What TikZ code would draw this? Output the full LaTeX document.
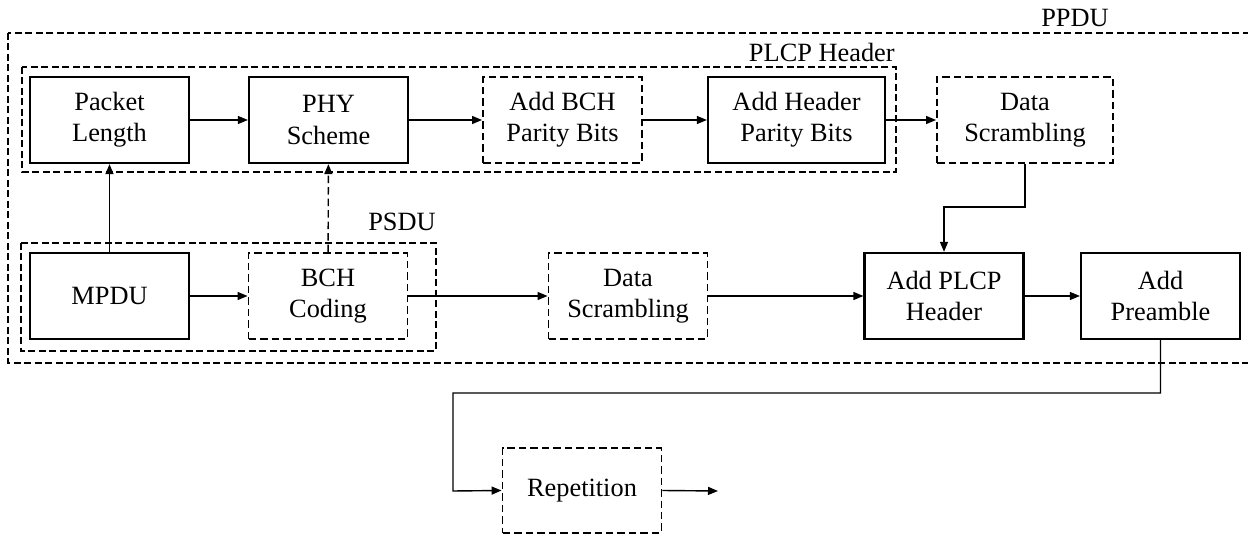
\documentclass[tikz,border=0pt]{standalone}
\usepackage{fontspec}
\setmainfont{Liberation Serif}
\usetikzlibrary{arrows.meta}
\begin{document}
\begin{tikzpicture}[x=0.02cm,y=-0.02cm,
  font=\fontsize{15}{17.8}\selectfont,
  blk/.style={draw,line width=1.3pt,align=center,inner sep=0pt,minimum width=3.18cm,minimum height=1.72cm},
  dblk/.style={blk,dash pattern=on 0.15cm off 0.08cm,line width=1.1pt},
  grp/.style={draw,line width=1.1pt,dash pattern=on 0.14cm off 0.07cm},
  conn/.style={line width=0.8pt,-{Triangle[length=0.2cm,width=0.16cm]}},
  dconn/.style={conn,dash pattern=on 0.15cm off 0.08cm},
  lbl/.style={inner sep=0pt}]
\useasboundingbox (0,0) rectangle (1248,536);
\clip (0,0) rectangle (1248,536);
% groups
\draw[grp] (8,33) rectangle (1270,363);
\draw[grp] (22,67) rectangle (896,172);
\draw[grp] (21,243) rectangle (436,351);
\node[lbl] (ppdulbl) at (1075,18) {PPDU};
\node[lbl,anchor=east] (plcplbl) at (895,52) {PLCP Header};
\node[lbl,anchor=east] (psdulbl) at (436,222) {PSDU};
% row 1
\node[blk] (pl) at (109.5,120) {Packet\\Length};
\node[blk] (phy) at (328.5,120) {PHY\\Scheme};
\node[dblk] (abch) at (562.5,120) {Add BCH\\Parity Bits};
\node[blk,minimum width=3.54cm] (ahp) at (796.5,120) {Add Header\\Parity Bits};
\node[dblk,minimum width=3.52cm] (ds1) at (1025,120) {Data\\Scrambling};
% row 2
\node[blk] (mpdu) at (109.5,296) {MPDU};
\node[dblk] (bch) at (328,296) {BCH\\Coding};
\node[dblk] (ds2) at (628,296) {Data\\Scrambling};
\node[blk] (aplcp) at (944,296) {Add PLCP\\Header};
\node[blk] (apre) at (1160.5,296) {Add\\Preamble};
% row 3
\node[dblk,minimum height=1.7cm] (rep) at (582,490.5) {Repetition};
\coordinate (out) at (718,491);
% connectors
\draw[conn] (pl) -- (phy);
\draw[conn] (phy) -- (abch);
\draw[conn] (abch) -- (ahp);
\draw[conn] (ahp) -- (ds1);
\draw[conn] (mpdu) -- (pl);
\draw[dconn] (bch) -- (phy);
\draw[conn] (mpdu) -- (bch);
\draw[conn] (bch) -- (ds2);
\draw[conn] (ds2) -- (aplcp);
\draw[conn] (aplcp) -- (apre);
\draw[conn] (ds1.south) -- (1025,207) -| (aplcp.north);
\draw[conn] (apre.south) -- (1160.5,393) -| (453,491) -- (rep.west);
\draw[conn] (rep.east) -- (out);
\end{tikzpicture}
\end{document}
